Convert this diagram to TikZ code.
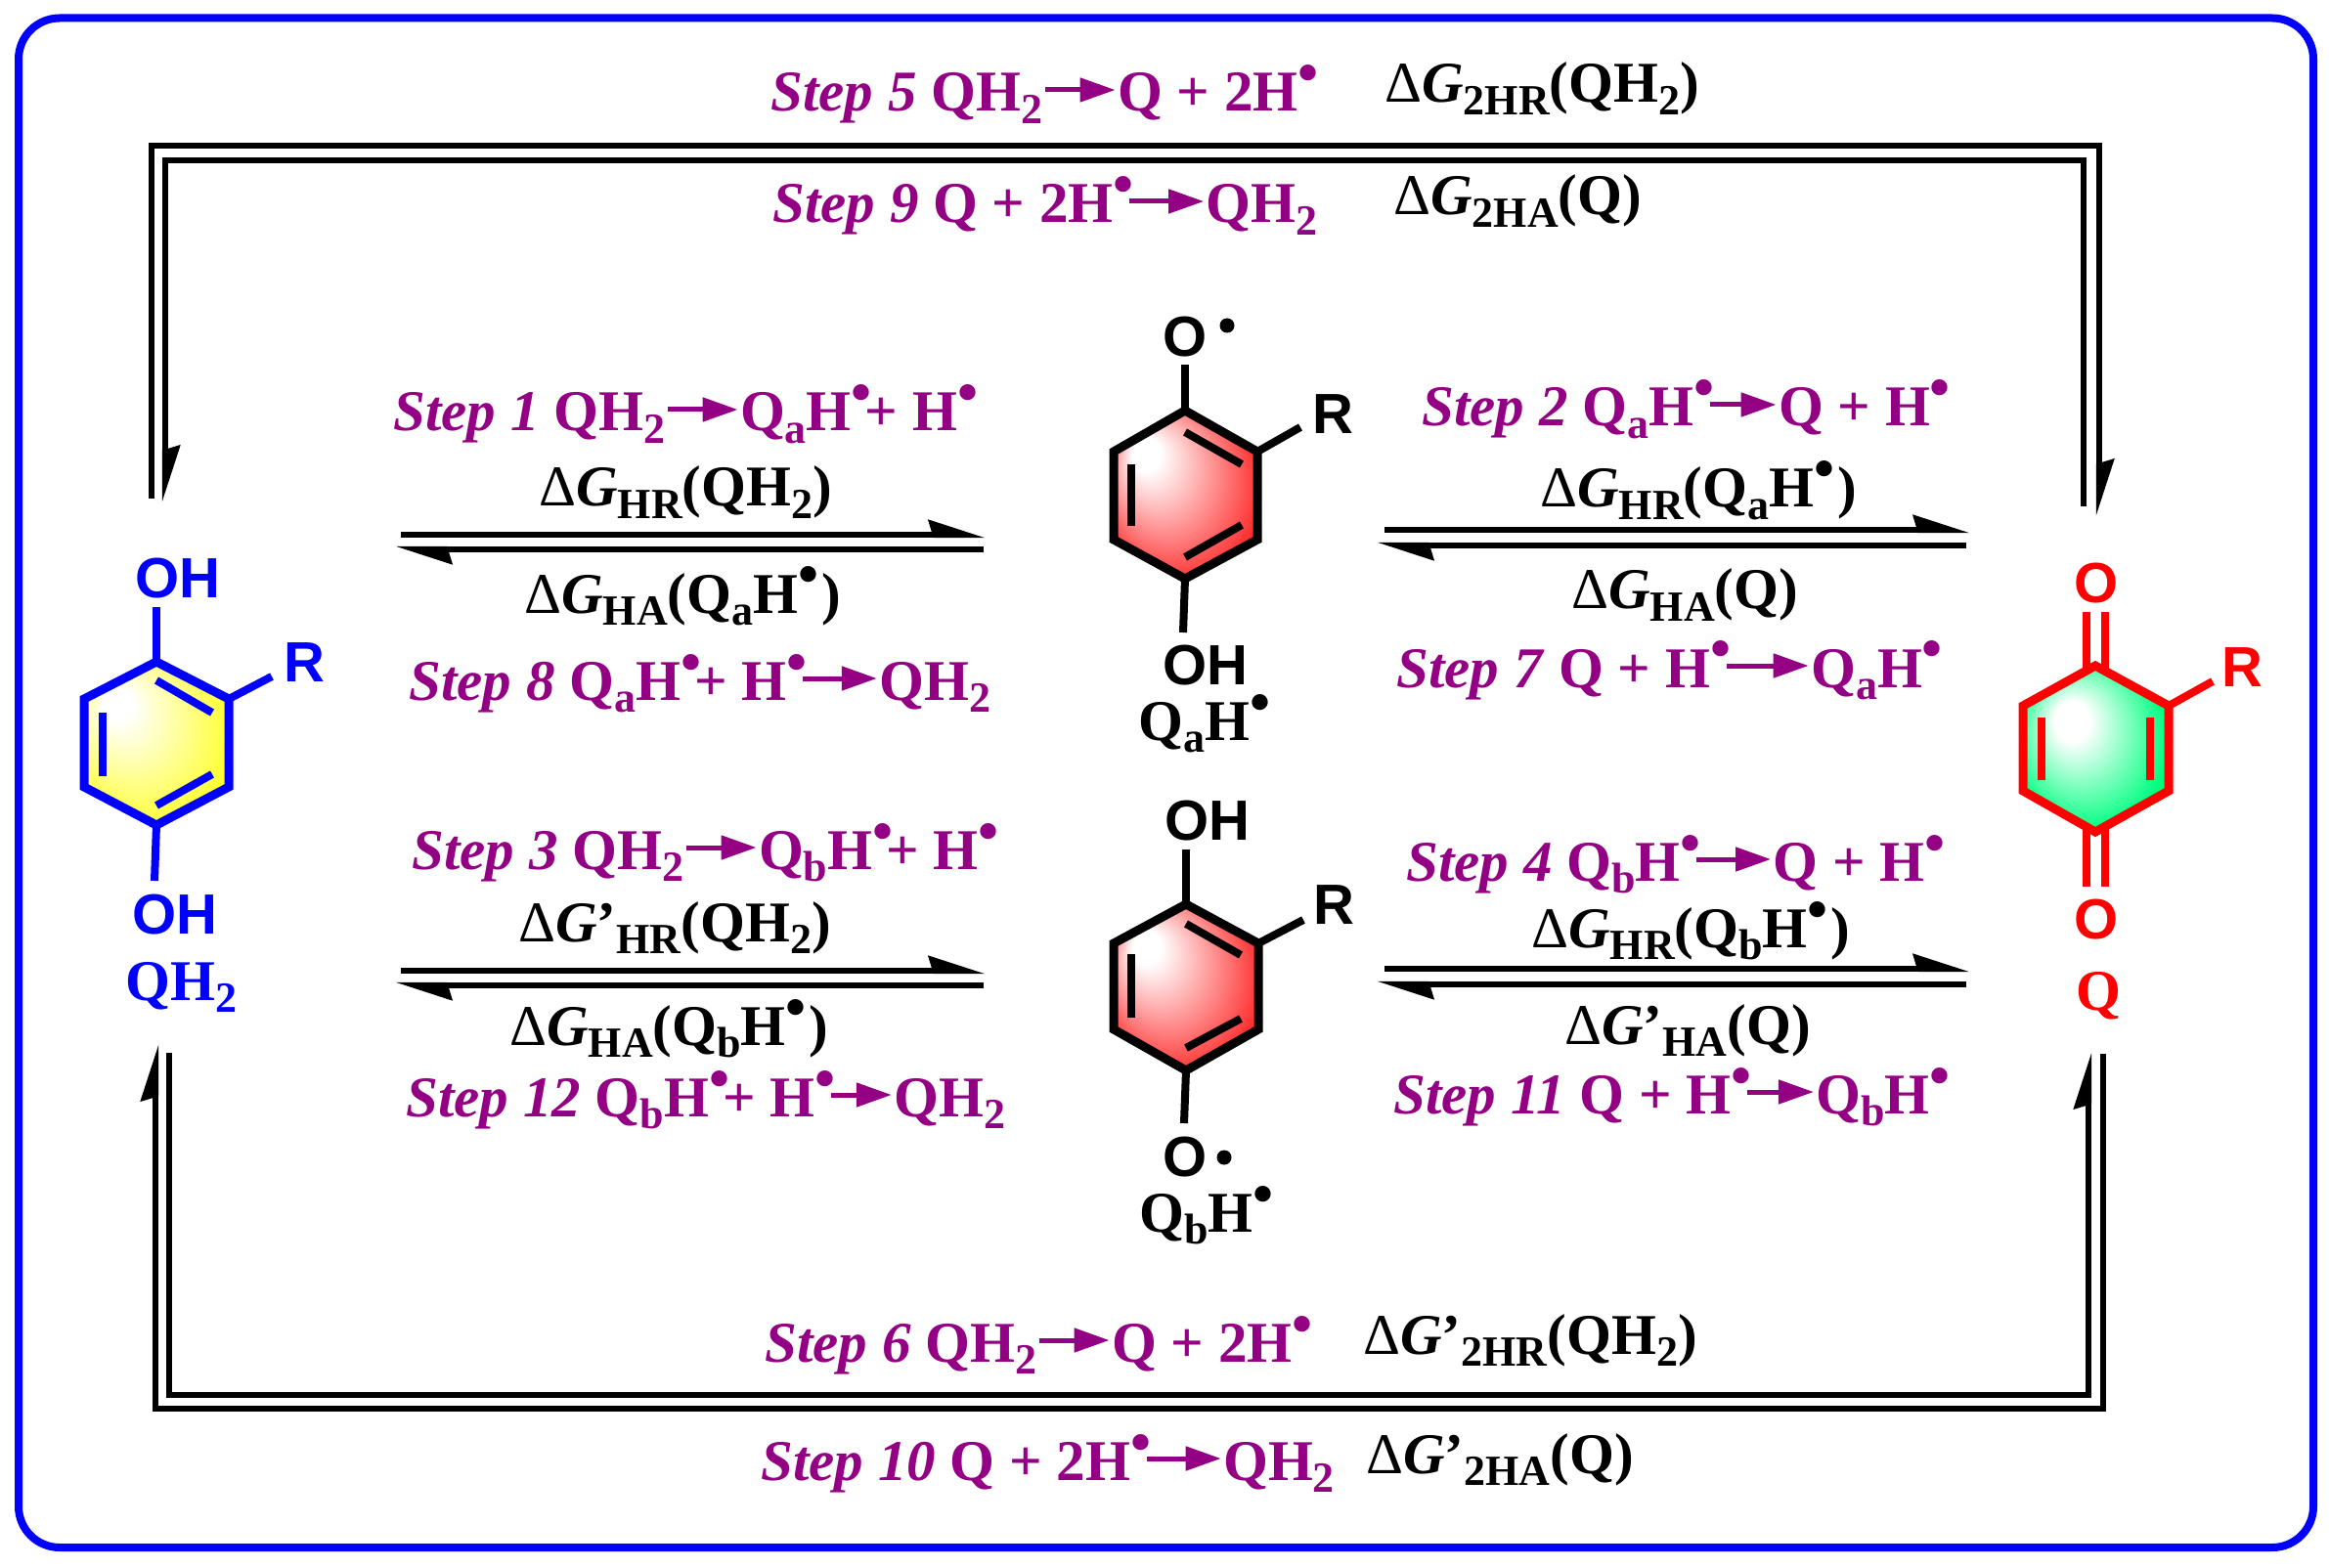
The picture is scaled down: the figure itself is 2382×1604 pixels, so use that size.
\documentclass[tikz,border=0pt]{standalone}
\usepackage{fontspec}
\setmainfont{Liberation Serif}
\setsansfont{Liberation Sans}
\usetikzlibrary{arrows.meta}
\definecolor{stepPurple}{RGB}{148,0,132}
\definecolor{frameBlue}{RGB}{0,0,255}
\definecolor{springGreen}{RGB}{0,255,128}
\pgfdeclareradialshading{yellowShade}{\pgfpoint{-16bp}{14bp}}{color(0bp)=(white); color(5bp)=(white); color(34bp)=(yellow)}
\pgfdeclareradialshading{redShade}{\pgfpoint{-16bp}{14bp}}{color(0bp)=(white); color(5bp)=(white); color(34bp)=(red)}
\pgfdeclareradialshading{greenShade}{\pgfpoint{-10bp}{10bp}}{color(0bp)=(white); color(6bp)=(white); color(27bp)=(springGreen); color(36bp)=(green)}
\newcommand{\lo}[1]{\raisebox{-0.22em}{\fontsize{22}{22}\selectfont #1}}
\newcommand{\rad}{\makebox[7pt][l]{\raisebox{9.5pt}{\fontsize{30}{30}\selectfont •}}}
\newcommand{\yields}[1][38pt]{\tikz[baseline = -11pt]{\draw[stepPurple, line width = 2.5pt, -{Triangle[length = 18pt, width = 12pt]}] (0pt, 0pt) -- (#1, 0pt);}}
\newcommand{\dG}{\textmd{Δ}\textit{G}}
\begin{document}
\begin{tikzpicture}[x = 0.5pt, y = -0.5pt, font = \fontsize{29.5}{30}\selectfont\bfseries]
	\tikzstyle{stepText} = [anchor = base west, inner sep = 0pt, text = stepPurple]
	\tikzstyle{energyText} = [anchor = base west, inner sep = 0pt, text = black]
	\tikzstyle{atomText} = [anchor = base, inner sep = 0pt, font = \fontsize{29}{30}\selectfont\sffamily\bfseries]
	\tikzstyle{ring} = [line width = 4.5pt, line join = miter]
	\tikzstyle{bond} = [line width = 4pt]
	\tikzstyle{wall} = [line width = 3.2pt, line join = miter]
	\tikzstyle{forward} = [wall, -{Stealth[harpoon, length = 24pt, width = 15pt, inset = 2pt]}]
	\useasboundingbox (0, 0) rectangle (2382, 1604);
	\draw[frameBlue, line width = 4pt, rounded corners = 21pt] (19, 18.5) rectangle (2366, 1583);
	
	\coordinate (t0) at (155, 510);
	\coordinate (t1) at (155, 149);
	\coordinate (t2) at (2147, 149);
	\coordinate (t3) at (2147, 528);
	\coordinate (t4) at (169, 514);
	\coordinate (t5) at (169, 164);
	\coordinate (t6) at (2131, 164);
	\coordinate (t7) at (2131, 518);
	\coordinate (b0) at (159, 1068);
	\coordinate (b1) at (159, 1441);
	\coordinate (b2) at (2151, 1441);
	\coordinate (b3) at (2151, 1078);
	\coordinate (b4) at (173, 1077);
	\coordinate (b5) at (173, 1427);
	\coordinate (b6) at (2136, 1427);
	\coordinate (b7) at (2136, 1076);
	\draw[forward] (t1) -- (t2) -- (t3);
	\draw[wall] (t0) -- (t1) -- (t2);
	\draw[forward] (t6) -- (t5) -- (t4);
	\draw[wall] (t7) -- (t6) -- (t5);
	\draw[forward] (b2) -- (b1) -- (b0);
	\draw[wall] (b3) -- (b2) -- (b1);
	\draw[forward] (b5) -- (b6) -- (b7);
	\draw[wall] (b4) -- (b5) -- (b6);
	
	\coordinate (p0) at (410, 547);
	\coordinate (p1) at (1008, 547);
	\coordinate (p2) at (1006, 562);
	\coordinate (p3) at (404, 562);
	\coordinate (p4) at (1416, 542);
	\coordinate (p5) at (2015, 542);
	\coordinate (p6) at (2011, 558);
	\coordinate (p7) at (1408, 558);
	\coordinate (p8) at (410, 993);
	\coordinate (p9) at (1008, 993);
	\coordinate (p10) at (1006, 1008);
	\coordinate (p11) at (404, 1008);
	\coordinate (p12) at (1416, 991);
	\coordinate (p13) at (2015, 991);
	\coordinate (p14) at (2011, 1007);
	\coordinate (p15) at (1408, 1007);
	\draw[forward] (p0) -- (p1);
	\draw[forward] (p2) -- (p3);
	\draw[forward] (p4) -- (p5);
	\draw[forward] (p6) -- (p7);
	\draw[forward] (p8) -- (p9);
	\draw[forward] (p10) -- (p11);
	\draw[forward] (p12) -- (p13);
	\draw[forward] (p14) -- (p15);
	
	\node[stepText] (s5) at (788, 114) {\textit{Step 5} QH\lo{2}\yields[36pt]Q + 2H\rad};
	\node[energyText] (e5) at (1416, 105) {\dG\lo{2HR}(QH\lo{2})};
	\node[stepText] (s9) at (790, 228) {\textit{Step 9} Q + 2H\rad\yields QH\lo{2}};
	\node[energyText] (e9) at (1425, 220) {\dG\lo{2HA}(Q)};
	\node[stepText] (s1) at (402, 441) {\textit{Step 1} QH\lo{2}\yields[36pt]Q\lo{a}H\rad+ H\rad};
	\node[energyText] (e1) at (551, 518) {\dG\lo{HR}(QH\lo{2})};
	\node[energyText] (e8) at (536, 627) {\dG\lo{HA}(Q\lo{a}H\rad\hspace{5pt})};
	\node[stepText] (s8) at (418, 716) {\textit{Step 8} Q\lo{a}H\rad+ H\rad\yields QH\lo{2}};
	\node[stepText] (s2) at (1454, 436) {\textit{Step 2} Q\lo{a}H\rad\yields[34pt]Q + H\rad};
	\node[energyText] (e2) at (1575, 519) {\dG\lo{HR}(Q\lo{a}H\rad\hspace{5pt})};
	\node[energyText] (e7) at (1607, 623) {\dG\lo{HA}(Q)};
	\node[stepText] (s7) at (1428, 703) {\textit{Step 7} Q + H\rad\yields[42pt]Q\lo{a}H\rad};
	\node[stepText] (s3) at (421, 889) {\textit{Step 3} QH\lo{2}\yields[36pt]Q\lo{b}H\rad+ H\rad};
	\node[energyText] (e3) at (530, 963) {\dG’\lo{HR}(QH\lo{2})};
	\node[energyText] (e12) at (521, 1069) {\dG\lo{HA}(Q\lo{b}H\rad\hspace{5pt})};
	\node[stepText] (s12) at (415, 1142) {\textit{Step 12} Q\lo{b}H\rad+ H\rad\yields[31pt]QH\lo{2}};
	\node[stepText] (s4) at (1438, 901) {\textit{Step 4} Q\lo{b}H\rad\yields Q + H\rad};
	\node[energyText] (e4) at (1566, 969) {\dG\lo{HR}(Q\lo{b}H\rad\hspace{5pt})};
	\node[energyText] (e11) at (1600, 1068) {\dG’\lo{HA}(Q)};
	\node[stepText] (s11) at (1425, 1139) {\textit{Step 11} Q + H\rad\yields[34pt]Q\lo{b}H\rad};
	\node[stepText] (s6) at (782, 1393) {\textit{Step 6} QH\lo{2}\yields[36pt]Q + 2H\rad};
	\node[energyText] (e6) at (1394, 1385) {\dG’\lo{2HR}(QH\lo{2})};
	\node[stepText] (s10) at (778, 1514) {\textit{Step 10} Q + 2H\rad\yields QH\lo{2}};
	\node[energyText] (e10) at (1397, 1507) {\dG’\lo{2HA}(Q)};
	
	\shade[shading = yellowShade] (160, 677) -- (234, 715) -- (234, 805) -- (160, 844) -- (86, 805) -- (86, 715) -- cycle;
	\draw[ring, frameBlue] (160, 677) -- (234, 715) -- (234, 805) -- (160, 844) -- (86, 805) -- (86, 715) -- cycle;
	\draw[bond, frameBlue] (160, 696) -- (217, 729);
	\draw[bond, frameBlue] (217, 792) -- (160, 824);
	\draw[bond, frameBlue] (105, 729) -- (105, 794);
	\node[atomText, text = frameBlue] (qh2oh1) at (182, 611) {OH};
	\node[atomText, text = frameBlue] (qh2oh2) at (179, 955) {OH};
	\node[atomText, text = frameBlue] (qh2r) at (311, 697) {R};
	\node[energyText, text = frameBlue] (qh2name) at (128, 1023) {QH\lo{2}};
	\draw[bond, frameBlue] (160, 677) -- (160, 621);
	\draw[bond, frameBlue] (160, 844) -- (158, 901);
	\draw[bond, frameBlue] (234, 715) -- (278, 692);
	
	\shade[shading = redShade] (1212, 420) -- (1286, 462) -- (1286, 552) -- (1212, 592) -- (1139, 552) -- (1139, 462) -- cycle;
	\draw[ring] (1212, 420) -- (1286, 462) -- (1286, 552) -- (1212, 592) -- (1139, 552) -- (1139, 462) -- cycle;
	\draw[bond] (1212, 442) -- (1270, 475);
	\draw[bond] (1270, 537) -- (1212, 570);
	\draw[bond] (1157, 475) -- (1157, 538);
	\draw[bond] (1212, 420) -- (1212, 373);
	\draw[bond] (1212, 592) -- (1210, 647);
	\draw[bond] (1286, 462) -- (1330, 437);
	\node[atomText] (qao) at (1212, 365) {O};
	\node[atomText] (qar) at (1363, 444) {R};
	\node[atomText] (qaoh) at (1233, 700) {OH};
	\node[energyText] (qaname) at (1164, 757) {Q\lo{a}H\rad};
	\fill (1255, 333) circle (3.75pt);
	
	\shade[shading = redShade] (1213, 925) -- (1287, 965) -- (1287, 1053) -- (1213, 1095) -- (1139, 1053) -- (1139, 965) -- cycle;
	\draw[ring] (1213, 925) -- (1287, 965) -- (1287, 1053) -- (1213, 1095) -- (1139, 1053) -- (1139, 965) -- cycle;
	\draw[bond] (1213, 945) -- (1269, 977);
	\draw[bond] (1269, 1042) -- (1213, 1072);
	\draw[bond] (1157, 976) -- (1157, 1041);
	\draw[bond] (1213, 925) -- (1213, 869);
	\draw[bond] (1213, 1095) -- (1211, 1149);
	\draw[bond] (1287, 965) -- (1333, 941);
	\node[atomText] (qboh) at (1235, 859) {OH};
	\node[atomText] (qbr) at (1364, 945) {R};
	\node[atomText] (qbo) at (1212, 1203) {O};
	\node[energyText] (qbname) at (1165, 1260) {Q\lo{b}H\rad};
	\fill (1252, 1184) circle (3.75pt);
	
	\shade[shading = greenShade] (2143, 681) -- (2218, 722) -- (2218, 809) -- (2143, 851) -- (2069, 809) -- (2069, 722) -- cycle;
	\draw[ring, red] (2143, 681) -- (2218, 722) -- (2218, 809) -- (2143, 851) -- (2069, 809) -- (2069, 722) -- cycle;
	\draw[bond, red] (2088, 734) -- (2088, 798);
	\draw[bond, red] (2199, 734) -- (2199, 798);
	\draw[bond, red] (2134, 686) -- (2134, 626);
	\draw[bond, red] (2153, 686) -- (2153, 626);
	\draw[bond, red] (2134, 846) -- (2134, 907);
	\draw[bond, red] (2153, 846) -- (2153, 907);
	\draw[bond, red] (2218, 722) -- (2263, 697);
	\node[atomText, text = red] (qo1) at (2144, 617) {O};
	\node[atomText, text = red] (qo2) at (2144, 960) {O};
	\node[atomText, text = red] (qr) at (2293, 702) {R};
	\node[energyText, text = red] (qname) at (2123, 1033) {Q};
\end{tikzpicture}
\end{document}
